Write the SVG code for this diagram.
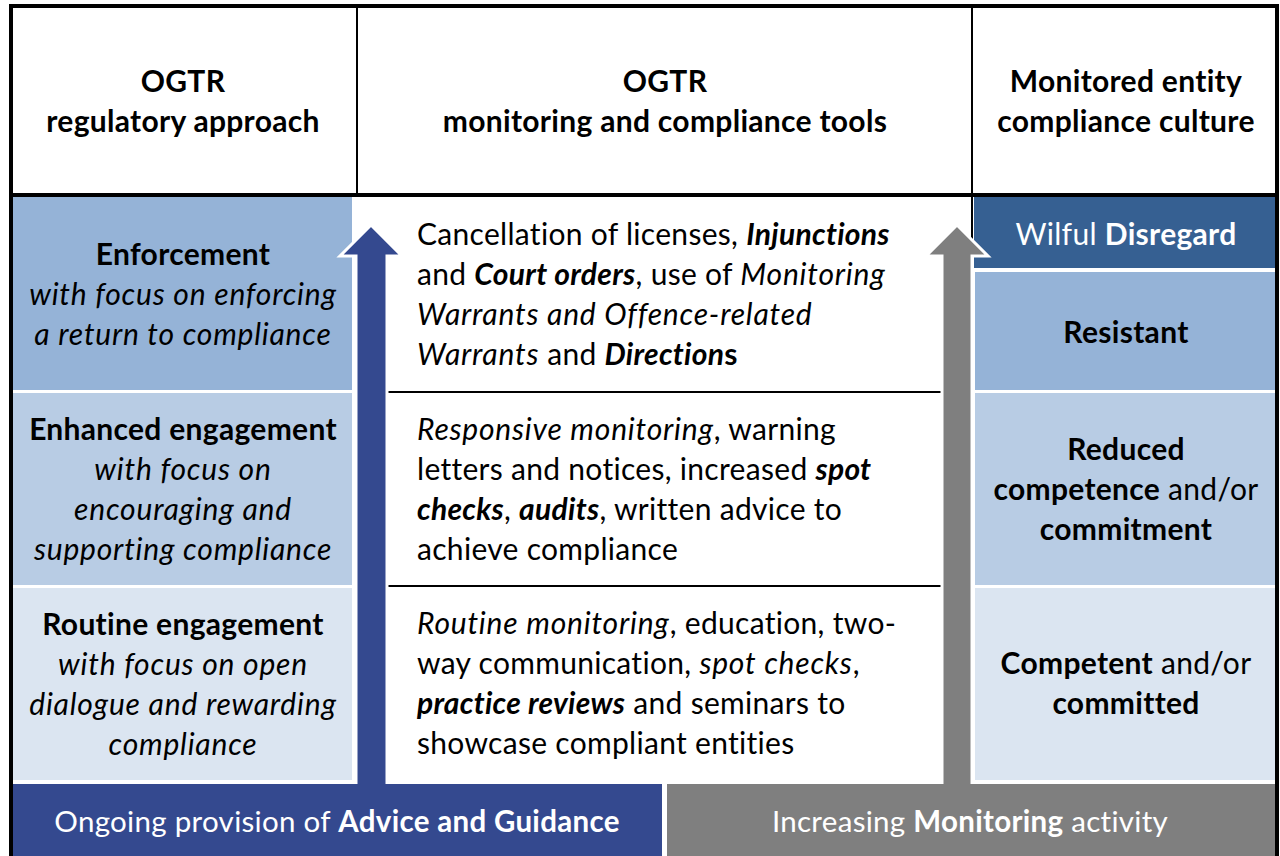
<svg xmlns="http://www.w3.org/2000/svg" width="1280" height="856" viewBox="0 0 1280 856">
<style>
text{font-family:Lato,"Liberation Sans","DejaVu Sans",sans-serif;font-size:30px;letter-spacing:0.3px;fill:#000}
.c{text-anchor:middle}
.b{font-weight:bold}
.i{font-style:italic;letter-spacing:0.8px}
.bi{font-weight:bold;font-style:italic}
.w{fill:#fff}
.h{font-weight:bold;font-size:30px}
.bar{font-size:29.5px}
.dark{fill:#366092}
.mid{fill:#95B3D7}
.lt{fill:#B8CCE4}
.vlt{fill:#DBE5F1}
.sep{stroke:#000;stroke-width:2}
</style>
<rect x="0" y="0" width="1280" height="856" fill="#fff"/>

<g id="header">
  <text class="c h" x="183" y="92">OGTR</text>
  <text class="c h" x="183" y="132">regulatory approach</text>
  <text class="c h" x="665" y="92">OGTR</text>
  <text class="c h" x="665" y="132">monitoring and compliance tools</text>
  <text class="c h" x="1126" y="92">Monitored entity</text>
  <text class="c h" x="1126" y="132">compliance culture</text>
  <line class="sep" x1="357" y1="6" x2="357" y2="195"/>
  <line class="sep" x1="972" y1="6" x2="972" y2="784"/>
</g>

<g id="enforcement">
  <rect class="mid" x="13" y="197" width="339" height="193"/>
  <text class="c b" x="183" y="265">Enforcement</text>
  <text class="c i" x="183" y="305">with focus on enforcing</text>
  <text class="c i" x="183" y="345">a return to compliance</text>
</g>
<g id="enhanced-engagement">
  <rect class="lt" x="13" y="393" width="339" height="192"/>
  <text class="c b" x="183" y="440">Enhanced engagement</text>
  <text class="c i" x="183" y="480">with focus on</text>
  <text class="c i" x="183" y="520">encouraging and</text>
  <text class="c i" x="183" y="560">supporting compliance</text>
</g>
<g id="routine-engagement">
  <rect class="vlt" x="13" y="588" width="339" height="192"/>
  <text class="c b" x="183" y="635">Routine engagement</text>
  <text class="c i" x="183" y="675">with focus on open</text>
  <text class="c i" x="183" y="715">dialogue and rewarding</text>
  <text class="c i" x="183" y="755">compliance</text>
</g>

<g id="tools-enforcement">
  <text x="417" y="245">Cancellation of licenses, <tspan class="bi">Injunctions</tspan></text>
  <text x="417" y="285">and <tspan class="bi">Court orders</tspan>, use of <tspan class="i">Monitoring</tspan></text>
  <text x="417" y="325" class="i">Warrants and Offence-related</text>
  <text x="417" y="365"><tspan class="i">Warrants</tspan> and <tspan class="bi">Direction</tspan><tspan class="b">s</tspan></text>
</g>
<g id="tools-enhanced">
  <line class="sep" x1="387" y1="392" x2="941" y2="392"/>
  <text x="417" y="440"><tspan class="i">Responsive monitoring</tspan>, warning</text>
  <text x="417" y="480">letters and notices, increased <tspan class="bi">spot</tspan></text>
  <text x="417" y="520"><tspan class="bi">checks</tspan>, <tspan class="bi">audits</tspan>, written advice to</text>
  <text x="417" y="560">achieve compliance</text>
</g>
<g id="tools-routine">
  <line class="sep" x1="387" y1="586" x2="941" y2="586"/>
  <text x="417" y="634"><tspan class="i">Routine monitoring</tspan>, education, two-</text>
  <text x="417" y="674">way communication, <tspan class="i">spot checks</tspan>,</text>
  <text x="417" y="714"><tspan class="bi">practice reviews</tspan> and seminars to</text>
  <text x="417" y="754">showcase compliant entities</text>
</g>

<g id="wilful-disregard">
  <rect class="dark" x="974" y="197" width="302" height="71"/>
  <text class="c w" x="1126" y="245">Wilful <tspan class="b">Disregard</tspan></text>
</g>
<g id="resistant">
  <rect class="mid" x="975" y="272" width="301" height="118"/>
  <text class="c b" x="1126" y="343">Resistant</text>
</g>
<g id="reduced">
  <rect class="lt" x="975" y="393" width="301" height="192"/>
  <text class="c b" x="1126" y="460">Reduced</text>
  <text class="c" x="1126" y="500"><tspan class="b">competence</tspan> and/or</text>
  <text class="c b" x="1126" y="540">commitment</text>
</g>
<g id="competent">
  <rect class="vlt" x="975" y="588" width="301" height="192"/>
  <text class="c" x="1126" y="674"><tspan class="b">Competent</tspan> and/or</text>
  <text class="c b" x="1126" y="714">committed</text>
</g>

<g id="connectors">
  <polygon points="371,225 402,256 387,256 387,790 356,790 356,256 340,256" fill="#34498F" stroke="#fff" stroke-width="3" stroke-linejoin="miter"/>
  <polygon points="957,225 988,256 972,256 972,790 942,790 942,256 926,256" fill="#7F7F7F" stroke="#fff" stroke-width="3" stroke-linejoin="miter"/>
</g>

<g id="advice-bar">
  <rect x="13" y="784" width="649" height="72" fill="#34498F"/>
  <text class="c w bar" x="337" y="832">Ongoing provision of <tspan class="b">Advice and Guidance</tspan></text>
</g>
<g id="monitoring-bar">
  <rect x="667" y="784" width="609" height="72" fill="#7F7F7F"/>
  <text class="c w bar" x="970" y="832">Increasing <tspan class="b">Monitoring</tspan> activity</text>
</g>

<g id="frame" fill="none" stroke="#000">
  <line x1="11" y1="4" x2="11" y2="856" stroke-width="4"/>
  <line x1="1277" y1="4" x2="1277" y2="856" stroke-width="4"/>
  <line x1="9" y1="6" x2="1279" y2="6" stroke-width="4"/>
  <line x1="11" y1="195" x2="1277" y2="195" stroke-width="4"/>
</g>
</svg>
